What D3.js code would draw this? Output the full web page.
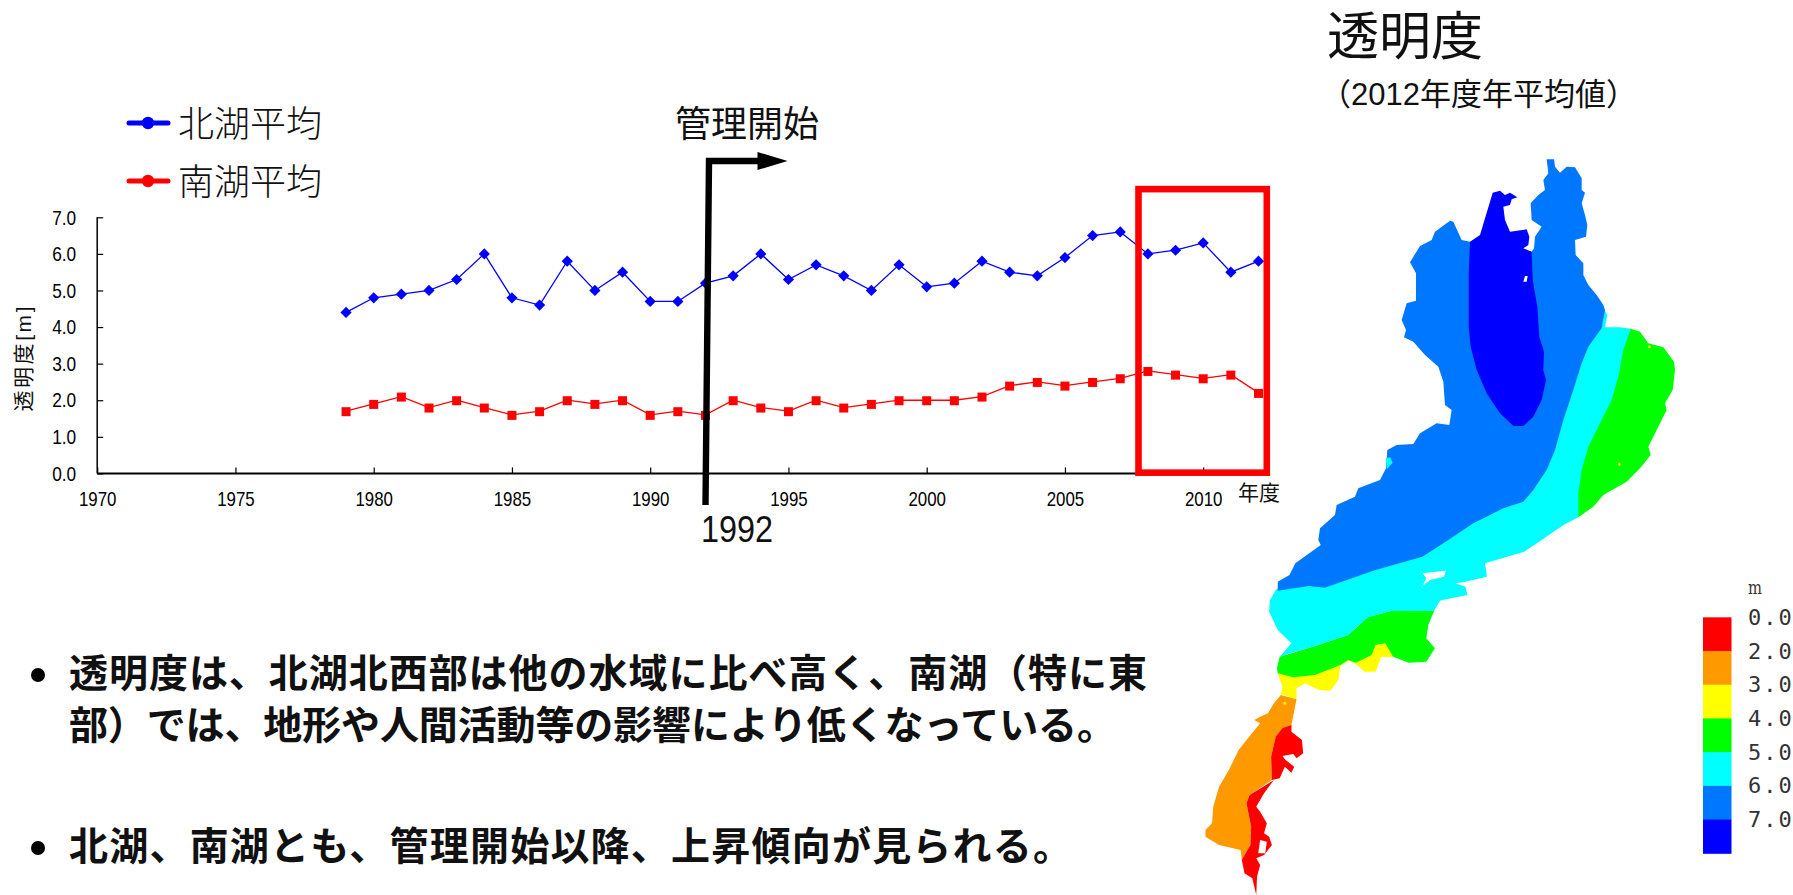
<!DOCTYPE html>
<html lang="ja"><head><meta charset="utf-8">
<script src="https://cdn.jsdelivr.net/npm/d3@7"></script>
<style>
html,body{margin:0;padding:0;background:#fff;overflow:hidden}
svg{display:block}
text{fill:#111}
</style></head><body><svg id="c" width="1793" height="895"></svg>
<script>
// ---------- chart data ----------
const years = d3.range(1979, 2013);
const northLake = [4.4,4.8,4.9,5.0,5.3,6.0,4.8,4.6,5.8,5.0,5.5,4.7,4.7,5.2,5.4,6.0,5.3,5.7,5.4,5.0,5.7,5.1,5.2,5.8,5.5,5.4,5.9,6.5,6.6,6.0,6.1,6.3,5.5,5.8];
const southLake = [1.7,1.9,2.1,1.8,2.0,1.8,1.6,1.7,2.0,1.9,2.0,1.6,1.7,1.6,2.0,1.8,1.7,2.0,1.8,1.9,2.0,2.0,2.0,2.1,2.4,2.5,2.4,2.5,2.6,2.8,2.7,2.6,2.7,2.2];
const xTicks = [1970,1975,1980,1985,1990,1995,2000,2005,2010];
const yTicks = [0,1,2,3,4,5,6,7];
const managementYear = 1992;
const highlightYears = [2007.66, 2012.3];
const highlightValues = [0.02, 7.77];
const legendNames = ["北湖平均","南湖平均"];
const bullets = [
  ["透明度は、北湖北西部は他の水域に比べ高く、南湖（特に東","部）では、地形や人間活動等の影響により低くなっている。"],
  ["北湖、南湖とも、管理開始以降、上昇傾向が見られる。"]
];
// ---------- map data (outline, in map units) ----------
const L = (x,y)=>[x*1.173,y+1200];
const mapGreenEast = [[1352,566],[1380,575],[1405,610],[1450,622],[1482,665],[1485,690],[1478,750],[1455,790],[1460,810],[1430,870],[1405,920],[1412,945],[1380,985],[1340,1025],[1270,1065],[1240,1100],[1195,1132],[1150,1000],[1300,600]];
const mapYellow = [L(250,400),L(262,440),L(258,462),L(298,478),L(298,445),L(320,430),L(355,450),L(385,452),L(405,420),L(410,378),L(432,362),L(450,372),L(472,395),L(500,395),L(515,350),L(545,352),L(525,300),L(300,370)];
const mapGreenSouth = [L(650,212),L(540,213),L(480,232),L(430,285),L(340,320),L(255,350),L(248,385),L(250,400),L(290,412),L(345,405),L(410,375),L(430,360),L(450,368),L(490,345),L(500,315),L(525,310),L(545,350),L(585,368),L(630,365),L(652,325),L(630,295),L(635,255)];
const mapCyan = [[1270,505],[1282,525],[1275,562],[1320,562],[1352,566],[1330,630],[1315,710],[1295,780],[1260,850],[1225,920],[1205,990],[1195,1060],[1195,1132],[1150,1155],[1085,1200],L(880,35),L(780,70),L(785,110),L(730,125),L(705,130),L(730,140),L(735,165),L(680,178),L(665,182),L(650,212),L(540,213),L(480,232),L(430,285),L(340,320),L(280,340),L(255,350),L(285,310),L(250,270),L(228,215),L(230,180),L(245,150),L(300,100),L(600,-60),[1100,800],[1200,570]];
const mapBlue = [[1100,58],[1122,58],[1125,80],[1140,98],[1160,80],[1185,82],[1205,115],[1205,150],[1215,158],[1205,190],[1215,225],[1222,255],[1218,290],[1185,300],[1187,345],[1210,370],[1210,405],[1225,435],[1250,465],[1270,495],[1275,510],[1265,565],[1225,620],[1205,670],[1180,750],[1150,840],[1125,930],[1100,990],[1060,1050],[1030,1085],[970,1105],[880,1150],[805,1200],L(620,50),L(500,90),L(370,143),L(330,138),L(250,152),L(250,125),L(280,105),L(295,70),L(360,15),[415,1200],[420,1165],[465,1125],[470,1095],[525,1070],[535,1045],[600,1020],[618,985],[622,930],[650,915],[700,912],[720,880],[770,850],[808,855],[815,810],[795,795],[790,725],[775,680],[735,645],[700,605],[672,592],[678,570],[665,540],[680,490],[708,482],[708,400],[690,367],[720,318],[755,300],[765,275],[810,242],[820,245],[845,300],[870,305],[1055,335],[1062,325],[1065,290],[1085,260],[1055,240],[1052,190],[1075,165],[1095,150],[1090,120],[1105,100]];
const mapDark = [[870,305],[900,285],[915,235],[930,185],[938,158],[960,152],[975,165],[990,158],[1012,172],[995,178],[990,195],[970,200],[975,240],[990,275],[1040,268],[1048,290],[1045,315],[1030,325],[1055,335],[1058,420],[1072,500],[1078,590],[1092,635],[1090,690],[1098,720],[1085,780],[1060,830],[1030,858],[1000,858],[960,820],[920,760],[890,690],[872,620],[866,560],[866,400]];
const mapOrange = [L(258,465),L(240,490),L(225,520),L(205,530),L(190,540),L(205,550),L(170,600),L(150,630),L(125,690),L(100,740),L(85,800),L(82,850),L(65,870),L(65,890),L(100,915),L(155,930),L(158,960),L(180,915),L(182,860),L(170,790),L(178,765),L(235,720),L(233,650),L(245,590),L(285,555),L(298,478)];
const mapRedUpper = [L(285,555),L(262,565),L(245,590),L(233,650),L(235,720),L(255,715),L(268,680),L(285,698),L(292,680),L(270,660),L(262,648),L(290,642),L(298,655),L(315,640),L(312,600),L(285,575)];
const mapRedLower = [L(240,720),L(178,765),L(170,790),L(182,860),L(180,915),L(158,960),L(165,1000),L(185,1015),L(195,1065),L(197,1010),L(205,975),L(195,955),L(215,945),L(235,915),L(228,890),L(215,880),L(222,850),L(205,815),L(195,800),L(215,760)];
const mapHoles = [[L(205,900),L(222,905),L(218,940),L(200,940)],[[1035,408],[1043,408],[1040,425],[1030,425]],[L(620,100),L(680,92),L(675,110),L(640,120),L(620,138),L(630,115)]];
const mapCyanBlob = [[618,955],[630,952],[638,968],[620,988]];
const mapYellowDots = [[1408,620],[1318,972],L(268,490)];
// ---------- legend of the map ----------
const scaleLabels = ["0.0","2.0","3.0","4.0","5.0","6.0","7.0"];
const scaleColors = ["#ff0000","#ff9900","#ffff00","#00ff00","#00ffff","#0077ff","#0000ff"];

const svg = d3.select("#c");
const JP = "'Liberation Sans','Noto Sans CJK JP',sans-serif";
const NUM = "'Liberation Sans',sans-serif";

// scales
const x = d3.scaleLinear().domain([1970,2010]).range([97.2,1203.2]);
const y = d3.scaleLinear().domain([0,7]).range([473.4,217.3]);

// axes
const gx = svg.append("g").attr("transform",`translate(0,${y(0)})`)
  .call(d3.axisBottom(x).tickValues(xTicks).tickSize(-6).tickPadding(18).tickFormat(d3.format("d")));
gx.select(".domain").attr("d",`M${x(1970)},0H${x(2012.3)}`).attr("stroke","#000").attr("stroke-width",2);
gx.selectAll("text").style("font-family",NUM).style("font-size","21px").style("fill","#000").attr("textLength",37.5).attr("lengthAdjust","spacingAndGlyphs");
const gy = svg.append("g").attr("transform",`translate(${x(1970)},0)`)
  .call(d3.axisLeft(y).tickValues(yTicks).tickSize(-6).tickPadding(21).tickFormat(d3.format(".1f")));
gy.select(".domain").attr("d",`M0,${y(7)}V${y(0)}`).attr("stroke","#000").attr("stroke-width",1.5);
gy.selectAll("text").style("font-family",NUM).style("font-size","21px").style("fill","#000").attr("textLength",24).attr("lengthAdjust","spacingAndGlyphs");
svg.selectAll(".tick line").attr("stroke","#000").attr("stroke-width",1.2);

svg.append("text").attr("transform","translate(23,359) rotate(-90)").attr("text-anchor","middle")
  .attr("dominant-baseline","central").style("font-family",JP).style("font-size","21px").attr("textLength",105).text("透明度[m]");
svg.append("text").attr("x",1259).attr("y",492).attr("text-anchor","middle").attr("dominant-baseline","central")
  .style("font-family",JP).style("font-size","21px").text("年度");

// series
const seriesLine = vals => d3.line().x((d,i)=>x(years[i])).y(d=>y(d))(vals);
svg.append("path").attr("d",seriesLine(northLake)).attr("fill","none").attr("stroke","#0000ff").attr("stroke-width",1.3);
svg.append("path").attr("d",seriesLine(southLake)).attr("fill","none").attr("stroke","#ff0000").attr("stroke-width",1.3);
svg.selectAll(".n").data(northLake).enter().append("path")
  .attr("d",d3.symbol(d3.symbolDiamond2,80))
  .attr("transform",(d,i)=>`translate(${x(years[i])},${y(d)})`).attr("fill","#0000ff");
svg.selectAll(".s").data(southLake).enter().append("rect")
  .attr("x",(d,i)=>x(years[i])-4.5).attr("y",d=>y(d)-4).attr("width",9).attr("height",9).attr("fill","#ff0000");

// highlight box
svg.append("rect").attr("x",x(highlightYears[0])).attr("y",y(highlightValues[1]))
  .attr("width",x(highlightYears[1])-x(highlightYears[0])).attr("height",y(highlightValues[0])-y(highlightValues[1]))
  .attr("fill","none").attr("stroke","#ff0000").attr("stroke-width",6.6);

// management arrow
const ax = x(managementYear);
svg.append("path").attr("d",`M${ax},505L${ax+3.5},161H${ax+54}`).attr("fill","none").attr("stroke","#000").attr("stroke-width",6.4);
svg.append("path").attr("d",`M${ax+52},152L${ax+82},161L${ax+52},170Z`).attr("fill","#000");
svg.append("text").attr("x",675).attr("y",124.5).attr("dominant-baseline","central").style("font-family",JP).style("font-size","36px").text("管理開始");
svg.append("text").attr("x",701).attr("y",529).attr("dominant-baseline","central").style("font-family",NUM).style("font-size","36px").attr("textLength",72).attr("lengthAdjust","spacingAndGlyphs").text(managementYear);

// legend
[["#0000ff",123],["#ff0000",181]].forEach((e,i)=>{
  svg.append("line").attr("x1",129).attr("x2",168).attr("y1",e[1]).attr("y2",e[1]).attr("stroke",e[0]).attr("stroke-width",5).attr("stroke-linecap","round");
  svg.append("circle").attr("cx",148).attr("cy",e[1]).attr("r",6.2).attr("fill",e[0]);
  svg.append("text").attr("x",178).attr("y",e[1]+1.5).attr("dominant-baseline","central").style("font-family",JP).style("font-size","36px").style("font-weight",300).text(legendNames[i]);
});

// title
svg.append("text").attr("x",1327).attr("y",37).attr("dominant-baseline","central").style("font-family",JP).style("font-size","52px").text("透明度");
svg.append("text").attr("x",1320).attr("y",94).attr("dominant-baseline","central").style("font-family",JP).style("font-size","31px").text("（2012年度年平均値）");

// bullets
const lineYs = [[673,725],[846]];
const lineLen = [[1078,1047],[1003]];
bullets.forEach((b,i)=>{
  svg.append("circle").attr("cx",38).attr("cy",lineYs[i][0]+2).attr("r",7).attr("fill","#000");
  b.forEach((t,j)=>svg.append("text").attr("x",69).attr("y",lineYs[i][j]).attr("dominant-baseline","central")
    .style("font-family",JP).style("font-size","39px").style("font-weight",700).attr("textLength",lineLen[i][j]).text(t));
});

// map
const mapX = d3.scaleLinear().domain([0,3]).range([1180,1181]);
const mapY = d3.scaleLinear().domain([0,3]).range([140,141]);
const poly = d3.line().x(d=>mapX(d[0])).y(d=>mapY(d[1])).curve(d3.curveLinearClosed);
const regions = [[mapGreenEast,"#00ff00"],[mapYellow,"#ffff00"],[mapGreenSouth,"#00ff00"],[mapCyan,"#00ffff"],[mapBlue,"#0077ff"],[mapDark,"#0000ff"],[mapOrange,"#ff9900"],[mapRedUpper,"#ff0000"],[mapRedLower,"#ff0000"],[mapCyanBlob,"#00ffff"]];
svg.selectAll(".r").data(regions).enter().append("path").attr("d",d=>poly(d[0])).attr("fill",d=>d[1]);
svg.selectAll(".h").data(mapHoles).enter().append("path").attr("d",poly).attr("fill","#fff");
svg.selectAll(".d").data(mapYellowDots).enter().append("circle").attr("cx",d=>mapX(d[0])).attr("cy",d=>mapY(d[1])).attr("r",1.5).attr("fill","#ffff00");

// colour scale
const sy = d3.scaleBand().domain(scaleLabels).range([617.3,853.3]);
svg.selectAll(".sw").data(scaleLabels).enter().append("rect").attr("x",1703).attr("width",28.5)
  .attr("y",d=>sy(d)).attr("height",sy.bandwidth()+0.5).attr("fill",(d,i)=>scaleColors[i]);
svg.selectAll(".sl").data(scaleLabels).enter().append("text").attr("x",1748).attr("y",d=>sy(d)).attr("dominant-baseline","central")
  .style("font-family","'DejaVu Sans Mono'").style("font-size","22px").style("letter-spacing","2px").style("font-weight",300).style("fill","#333").text(d=>d);
svg.append("text").attr("x",1748).attr("y",587).attr("dominant-baseline","central").style("font-family","'DejaVu Serif'").style("font-size","18px").style("fill","#333").attr("textLength",14).attr("lengthAdjust","spacingAndGlyphs").text("m");
</script></body></html>
